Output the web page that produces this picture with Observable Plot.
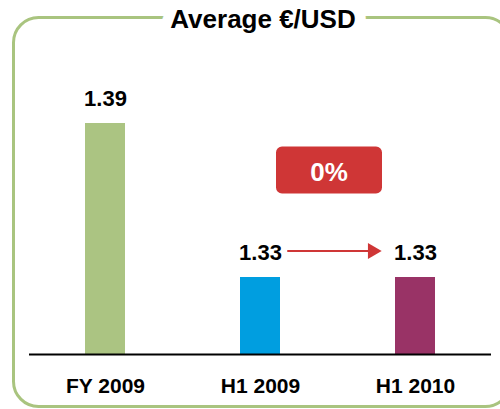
<!DOCTYPE html>
<html>
<head>
<meta charset="utf-8">
<script src="https://cdn.jsdelivr.net/npm/d3@7"></script>
<script src="https://cdn.jsdelivr.net/npm/@observablehq/plot@0.6"></script>
<style>
  html, body { margin: 0; padding: 0; background: #fff; overflow: hidden; }
  #chart { width: 500px; height: 409px; overflow: hidden; }
</style>
</head>
<body>
<div id="chart"></div>
<script>
// ---- data ----
const title = "Average €/USD";
const categories = ["FY 2009", "H1 2009", "H1 2010"];
const values = [1.39, 1.33, 1.33];
const barColors = ["#abc482", "#009ee0", "#993366"];
const yBase = 1.30;          // value axis starts here (baseline)
const yTop = 1.39;
const compareFrom = "H1 2009";
const compareTo = "H1 2010";

const rows = categories.map((c, i) => ({category: c, value: values[i]}));
const vFrom = values[categories.indexOf(compareFrom)];
const vTo = values[categories.indexOf(compareTo)];
const pct = Math.round((vTo - vFrom) / vFrom * 100) + "%";
const annot = [{from: compareFrom, to: compareTo, yFrom: vFrom, yTo: vTo, label: pct}];

const red = "#cf3636";

// rounded rectangle symbol for the change badge
function roundRect(w, h, r) {
  return {
    draw(ctx) {
      const x0 = -w / 2, y0 = -h / 2, x1 = w / 2, y1 = h / 2;
      ctx.moveTo(x0 + r, y0);
      ctx.lineTo(x1 - r, y0);
      ctx.arcTo(x1, y0, x1, y0 + r, r);
      ctx.lineTo(x1, y1 - r);
      ctx.arcTo(x1, y1, x1 - r, y1, r);
      ctx.lineTo(x0 + r, y1);
      ctx.arcTo(x0, y1, x0, y1 - r, r);
      ctx.lineTo(x0, y0 + r);
      ctx.arcTo(x0, y0, x0 + r, y0, r);
      ctx.closePath();
    }
  };
}

const chart = Plot.plot({
  width: 500,
  height: 409,
  marginLeft: 13,
  marginTop: 17,
  marginRight: -10,
  marginBottom: 3,
  style: {fontFamily: "'Liberation Sans', Arial, sans-serif", fontWeight: "bold", color: "black", background: "white"},
  x: {domain: categories, range: [27, 492], paddingInner: 0.742, paddingOuter: 0.371, axis: null},
  y: {domain: [yBase, yTop], range: [354, 123], axis: null},
  color: {domain: categories, range: barColors},
  marks: [
    Plot.frame({stroke: "#a9c47f", strokeWidth: 3, rx: 25, ry: 25, fill: "none"}),
    Plot.barY(rows, {x: "category", y1: () => yBase, y2: "value", fill: "category"}),
    Plot.ruleY([yBase], {stroke: "black", strokeWidth: 2, insetLeft: 16, insetRight: 19}),
    Plot.text(rows, {x: "category", y: "value", text: d => d.value.toFixed(2), fontSize: 22, fontWeight: "bold", fill: "black", lineAnchor: "middle", dy: -25}),
    Plot.text(categories, {x: d => d, text: d => d, frameAnchor: "bottom", lineAnchor: "middle", dy: -20, fontSize: 21, fontWeight: "bold", fill: "black"}),
    // change badge
    Plot.dot(annot, {x: "from", frameAnchor: "top", dx: 68.5, dy: 152.5, symbol: roundRect(106, 47, 6), fill: red, stroke: "none"}),
    Plot.text(annot, {x: "from", frameAnchor: "top", text: "label", dx: 68.5, dy: 155, lineAnchor: "middle", fontSize: 26, fontWeight: "bold", fill: "white"}),
    // arrow between the two compared values
    Plot.arrow(annot, {x1: "from", x2: "to", y1: "yFrom", y2: "yTo", insetStart: 27.5, insetEnd: 47, headLength: 0, dy: -26.5, stroke: red, strokeWidth: 2}),
    Plot.dot(annot, {x: "to", y: "yTo", symbol: "triangle", rotate: 90, r: 5.9, dx: -43, dy: -26.5, fill: red, stroke: "none"}),
    // title breaking the border
    Plot.text([title], {frameAnchor: "top", text: d => d, dx: 1, dy: 2, lineAnchor: "middle", fontSize: 26, fontWeight: "bold", fill: "black", stroke: "white", strokeWidth: 22, strokeLinejoin: "round", paintOrder: "stroke"})
  ]
});

document.getElementById("chart").appendChild(chart);
</script>
</body>
</html>
